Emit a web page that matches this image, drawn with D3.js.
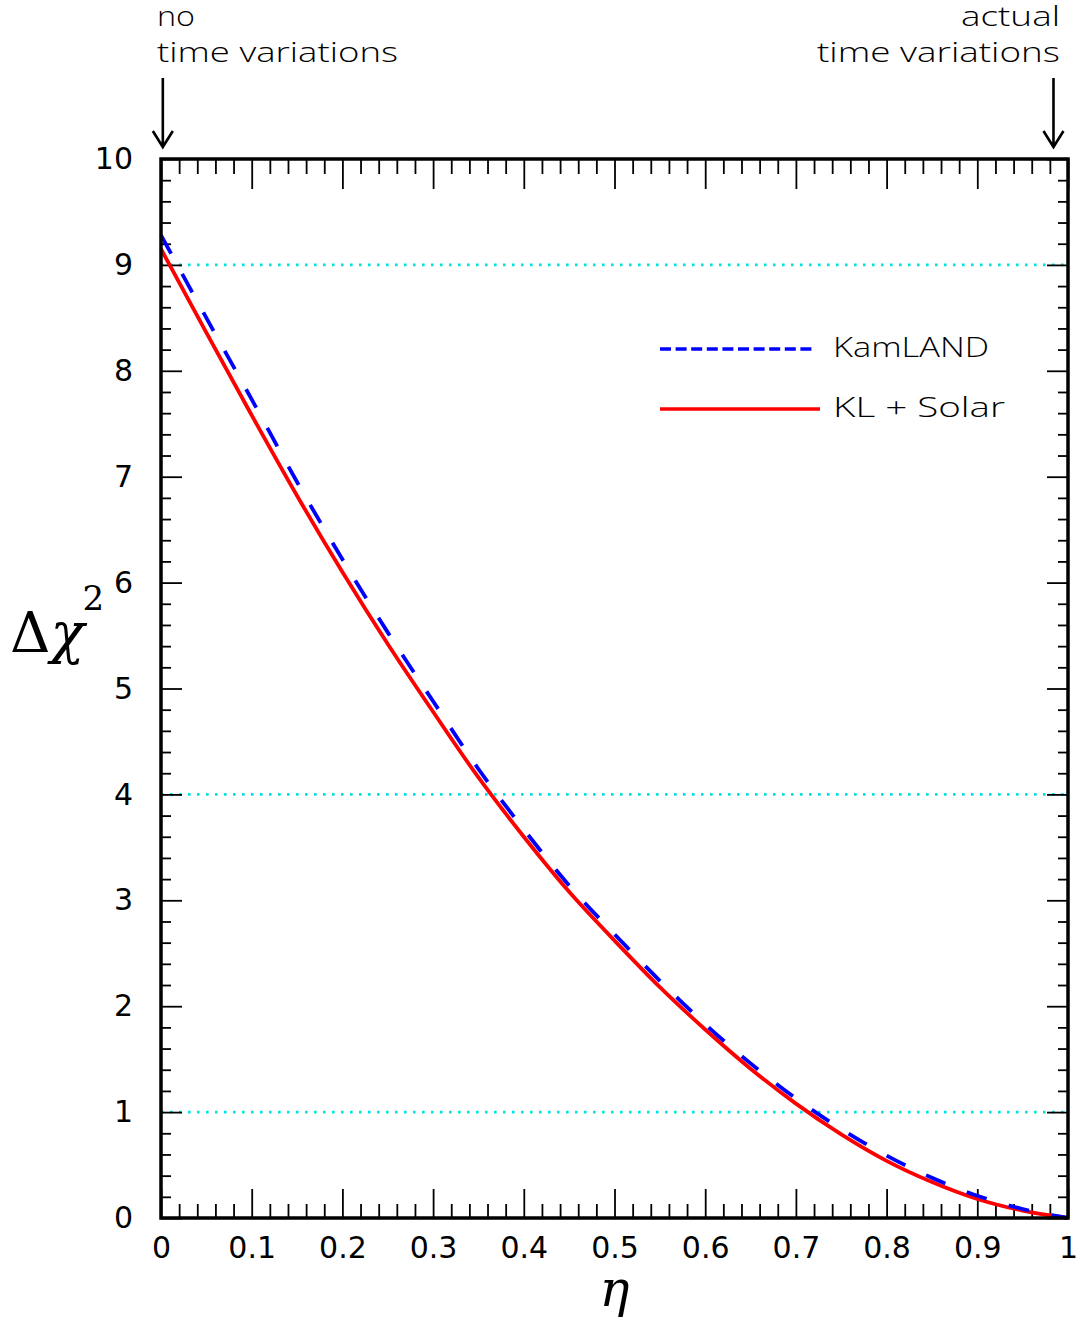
<!DOCTYPE html>
<html>
<head>
<meta charset="utf-8">
<script src="https://cdn.jsdelivr.net/npm/d3@7"></script>
<style>
  body { margin: 0; background: #fff; }
  svg { display: block; }
</style>
</head>
<body>
<div id="chart"></div>
<script>
// eta values and delta chi^2
const eta = [0, 0.05, 0.1, 0.15, 0.2, 0.25, 0.3, 0.35, 0.4, 0.45, 0.5,
             0.55, 0.6, 0.65, 0.7, 0.75, 0.8, 0.85, 0.9, 0.95, 1.0];
const kamland = [9.28, 8.50, 7.73, 6.95, 6.22, 5.53, 4.88, 4.24, 3.67, 3.14, 2.68,
                 2.24, 1.83, 1.46, 1.13, 0.84, 0.59, 0.38, 0.21, 0.085, 0];
const klSolar = [9.15, 8.36, 7.58, 6.82, 6.10, 5.42, 4.78, 4.16, 3.60, 3.08, 2.62,
                 2.18, 1.78, 1.41, 1.08, 0.79, 0.54, 0.34, 0.18, 0.07, 0];

const xTicks = [0, 0.1, 0.2, 0.3, 0.4, 0.5, 0.6, 0.7, 0.8, 0.9, 1];
const xTickLabels = ["0", "0.1", "0.2", "0.3", "0.4", "0.5", "0.6", "0.7", "0.8", "0.9", "1"];
const yTicks = [0, 1, 2, 3, 4, 5, 6, 7, 8, 9, 10];
const refLevels = [1, 4, 9];

const seriesNames = ["KamLAND", "KL + Solar"];
const arrowEta = [0.002, 0.984];

const W = 1077, H = 1326;
const margin = { left: 161, top: 159, right: 9, bottom: 108 };
const width = W - margin.left - margin.right;
const height = H - margin.top - margin.bottom;

const font = "'DejaVu Sans', sans-serif";
const lightFont = "'Open Sans', 'DejaVu Sans', sans-serif";

const svg = d3.select("#chart").append("svg").attr("width", W).attr("height", H);
const g = svg.append("g").attr("transform", `translate(${margin.left},${margin.top})`);

const x = d3.scaleLinear().domain([0, 1]).range([0, width]);
const y = d3.scaleLinear().domain([0, 10]).range([height, 0]);

const xMinor = d3.range(0, 1.0001, 0.02).filter(v => Math.abs(Math.round(v * 10) - v * 10) > 1e-6);
const yMinor = d3.range(0, 10.0001, 0.2).filter(v => Math.abs(Math.round(v) - v) > 1e-6);

// reference levels (dotted cyan)
g.selectAll(".ref")
  .data(refLevels)
  .enter()
  .append("line")
  .attr("x1", 0)
  .attr("x2", width)
  .attr("y1", d => y(d))
  .attr("y2", d => y(d))
  .style("stroke", "#00e2e2")
  .style("stroke-width", 2.6)
  .style("stroke-dasharray", "2.6,6.4");

// axes with inward ticks
function styleAxis(sel) {
  sel.select(".domain").remove();
  sel.selectAll(".tick line").style("stroke", "#000").style("stroke-width", 1.8);
  sel.selectAll("text").style("font-family", font).style("font-size", "30px").style("fill", "#000");
}

g.append("g").attr("transform", `translate(0,${height})`)
  .call(d3.axisBottom(x).tickValues(xTicks).tickSizeInner(-29).tickSizeOuter(0).tickPadding(19)
    .tickFormat((d, i) => xTickLabels[i]))
  .call(styleAxis);
g.append("g").attr("transform", `translate(0,${height})`)
  .call(d3.axisBottom(x).tickValues(xMinor).tickSizeInner(-14).tickSizeOuter(0).tickFormat(""))
  .call(styleAxis);

g.append("g")
  .call(d3.axisTop(x).tickValues(xTicks).tickSizeInner(-30).tickSizeOuter(0).tickFormat(""))
  .call(styleAxis);
g.append("g")
  .call(d3.axisTop(x).tickValues(xMinor).tickSizeInner(-15).tickSizeOuter(0).tickFormat(""))
  .call(styleAxis);

g.append("g")
  .call(d3.axisLeft(y).tickValues(yTicks).tickSizeInner(-21).tickSizeOuter(0).tickPadding(28)
    .tickFormat(d3.format("d")))
  .call(styleAxis);
g.append("g")
  .call(d3.axisLeft(y).tickValues(yMinor).tickSizeInner(-10).tickSizeOuter(0).tickFormat(""))
  .call(styleAxis);

g.append("g").attr("transform", `translate(${width},0)`)
  .call(d3.axisRight(y).tickValues(yTicks).tickSizeInner(-21).tickSizeOuter(0).tickFormat(""))
  .call(styleAxis);
g.append("g").attr("transform", `translate(${width},0)`)
  .call(d3.axisRight(y).tickValues(yMinor).tickSizeInner(-10).tickSizeOuter(0).tickFormat(""))
  .call(styleAxis);

// curves
const line = d3.line()
  .x((d, i) => x(eta[i]))
  .y(d => y(d))
  .curve(d3.curveMonotoneX);

g.append("path")
  .attr("d", line(klSolar))
  .style("fill", "none")
  .style("stroke", "#ff0000")
  .style("stroke-width", 3.8);

g.append("path")
  .attr("d", line(kamland))
  .style("fill", "none")
  .style("stroke", "#0000ff")
  .style("stroke-width", 3.8)
  .style("stroke-dasharray", "21,23");

// frame
g.append("rect")
  .attr("width", width)
  .attr("height", height)
  .style("fill", "none")
  .style("stroke", "#000")
  .style("stroke-width", 3.5);

// legend
const legend = svg.append("g");
legend.append("line")
  .attr("x1", 660).attr("x2", 814).attr("y1", 349).attr("y2", 349)
  .style("stroke", "#0000ff").style("stroke-width", 3.5).style("stroke-dasharray", "11,4.6");
legend.append("line")
  .attr("x1", 660).attr("x2", 820).attr("y1", 409).attr("y2", 409)
  .style("stroke", "#ff0000").style("stroke-width", 3.5);
legend.selectAll("text")
  .data(seriesNames)
  .enter()
  .append("text")
  .attr("x", 833)
  .attr("y", (d, i) => 357 + i * 60)
  .attr("textLength", (d, i) => (i === 0 ? 156 : 172))
  .attr("lengthAdjust", "spacingAndGlyphs")
  .style("font-family", lightFont)
  .style("font-weight", 300)
  .style("font-size", "28px")
  .style("fill", "#000")
  .text(d => d);

// annotations above the frame
function annot(txt, xx, yy, anchor, len) {
  svg.append("text")
    .attr("x", xx).attr("y", yy)
    .attr("text-anchor", anchor)
    .attr("textLength", len)
    .attr("lengthAdjust", "spacingAndGlyphs")
    .style("font-family", lightFont)
    .style("font-weight", 300)
    .style("font-size", "28px")
    .style("fill", "#000")
    .text(txt);
}
annot("no", 157, 26, "start", 38);
annot("time variations", 157, 62, "start", 241);
annot("actual", 1060, 26, "end", 99);
annot("time variations", 1060, 62, "end", 243);

arrowEta.forEach(e => {
  const ax = margin.left + x(e);
  svg.append("path")
    .attr("d", `M${ax},78 L${ax},146 M${ax - 10},131 L${ax},147 L${ax + 10},131`)
    .style("fill", "none")
    .style("stroke", "#000")
    .style("stroke-width", 2.6);
});

// axis titles
svg.append("text")
  .attr("x", margin.left + width / 2)
  .attr("y", 1306)
  .attr("text-anchor", "middle")
  .style("font-family", "'DejaVu Serif', serif")
  .style("font-style", "italic")
  .style("font-size", "50px")
  .style("fill", "#000")
  .text("η");

const yt = svg.append("text")
  .attr("x", 10)
  .attr("y", 652)
  .style("font-family", "'DejaVu Serif', serif")
  .style("font-size", "56px")
  .style("fill", "#000");
yt.append("tspan").text("Δ");
yt.append("tspan").style("font-style", "italic").text("χ");
yt.append("tspan").attr("dx", -2).attr("dy", -42).style("font-size", "34px").text("2");
</script>
</body>
</html>
